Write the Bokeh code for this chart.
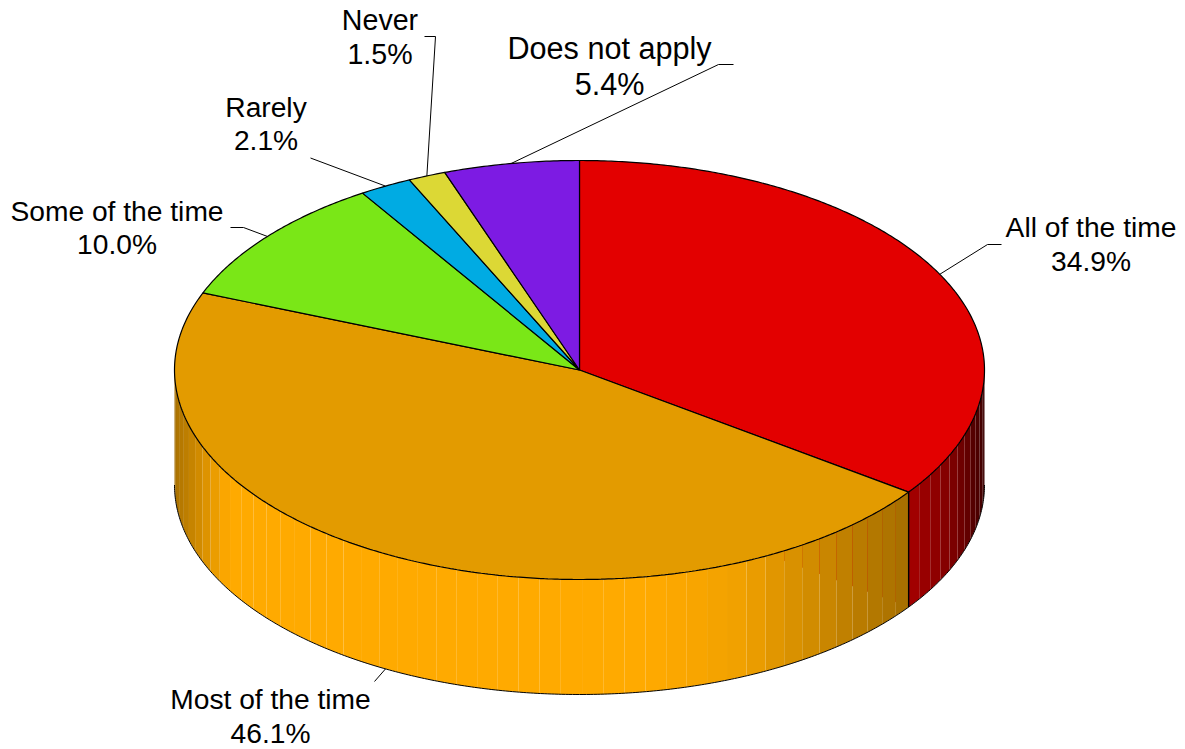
import numpy as np
from bokeh.embed import file_html
from bokeh.resources import INLINE
from bokeh.models import Range1d, ColumnDataSource
from bokeh.plotting import figure
from bokeh.core.properties import value

# ---- data ----
categories = ["All of the time", "Most of the time", "Some of the time", "Rarely", "Never", "Does not apply"]
percents = [34.9, 46.1, 10.0, 2.1, 1.5, 5.4]
percent_labels = ["34.9%", "46.1%", "10.0%", "2.1%", "1.5%", "5.4%"]

# ---- style ----
top_colors = ["#E30000", "#E39B00", "#7AE717", "#00ABE3", "#DCD835", "#7D1BE3"]
wall_bases = [(255, 0, 0), (255, 170, 0), None, None, None, None]
shade_angles = [90, 102, 113.6, 126, 138, 145, 150, 156, 170, 240, 248, 255, 270]
shade_levels = [.20, .31, .50, .65, .74, .82, .87, .94, 1.0, 1.0, .85, .75, .62]

W, H = 1185, 749
OX, OY = 0, 0
CX, CY, RX, RY, DEPTH = 579.0, 369.5, 405.0, 209.5, 115.0
BASELINE_SHIFT = -10.5

# label layout: centre x, first baseline, second baseline, font px, leader bend points
label_layout = {
    "All of the time": (1090.5, 237, 270.5, 28.2, [(987, 244), (1001, 244)]),
    "Most of the time": (270, 709, 743, 28.2, [(374, 681)]),
    "Some of the time": (116.5, 220.5, 254, 28.2, [(243, 227), (230, 227)]),
    "Rarely": (265.5, 116.5, 150, 28.2, [(310, 157.5)]),
    "Never": (379.5, 30, 63.5, 28.6, [(435, 36), (424, 36)]),
    "Does not apply": (609, 57.5, 94, 30.6, [(718, 64), (733, 64)]),
}


def ex(a):
    return CX + RX * np.sin(np.radians(a))


def ey(a):
    return CY - RY * np.cos(np.radians(a))


p = figure(width=W, height=H, output_backend="svg", toolbar_location=None,
           x_range=Range1d(OX, OX + W), y_range=Range1d(OY + H, OY),
           min_border=0, outline_line_color=None, background_fill_color="white")
p.axis.visible = False
p.grid.visible = False

edges = np.concatenate([[0], np.cumsum(percents)]) * 3.6
starts, ends = edges[:-1], edges[1:]

# hidden cut face of the first slice, below the wall of the second one
b = ends[0]
p.patches([[CX, ex(b), ex(b), CX]], [[CY, ey(b), ey(b) + DEPTH, CY + DEPTH]],
          fill_color="#C00000", line_color=None)

# side wall facets: 3 degree steps from each slice's own start
fx, fy, fc = [], [], []
for s, e, base in zip(starts, ends, wall_bases):
    if base is None:
        continue
    ticks = list(np.arange(s, e, 3.0)) + [e]
    for a0, a1 in zip(ticks[:-1], ticks[1:]):
        lo, hi = max(a0, 90), min(a1, 270)
        if hi <= lo:
            continue
        arc = np.array([lo, hi])
        fx.append(list(ex(arc)) + list(ex(arc[::-1])))
        fy.append(list(ey(arc)) + list(ey(arc[::-1]) + DEPTH))
        k = float(np.interp((lo + hi) / 2, shade_angles, shade_levels))
        fc.append("#%02X%02X%02X" % tuple(int(round(c * k)) for c in base))
p.patches(fx, fy, fill_color=fc, line_color=None)

# wall outline
arc = np.linspace(90, 270, 361)
p.line(ex(arc), ey(arc) + DEPTH, line_color="black", line_width=1)
p.line([ex(b), ex(b)], [ey(b), ey(b) + DEPTH], line_color="black", line_width=1.4)

# top face slices
xs, ys = [], []
for s, e in zip(starts, ends):
    arc = np.linspace(s, e, max(int((e - s) * 2), 4))
    xs.append([CX] + list(ex(arc)))
    ys.append([CY] + list(ey(arc)))
p.patches(xs, ys, fill_color=top_colors, line_color="black", line_width=1.2)

# leaders start from the rim at each slice's middle angle, labels above
for name, lab, s, e in zip(categories, percent_labels, starts, ends):
    cx, y1, y2, size, bends = label_layout[name]
    mid = (s + e) / 2
    ax, ay = ex(mid), ey(mid)
    if 90 < mid < 270:
        ay += DEPTH
    p.line([ax] + [q[0] for q in bends], [ay] + [q[1] for q in bends],
           line_color="black", line_width=1)
    src = ColumnDataSource(dict(x=[cx, cx], y=[y1 + BASELINE_SHIFT, y2 + BASELINE_SHIFT], t=[name, lab]))
    p.text("x", "y", text="t", source=src, text_font=value("Liberation Sans"),
           text_font_size=f"{size}px", text_color="black", text_align="center",
           text_baseline="alphabetic")

open("out.html", "w").write(file_html(p, INLINE))
